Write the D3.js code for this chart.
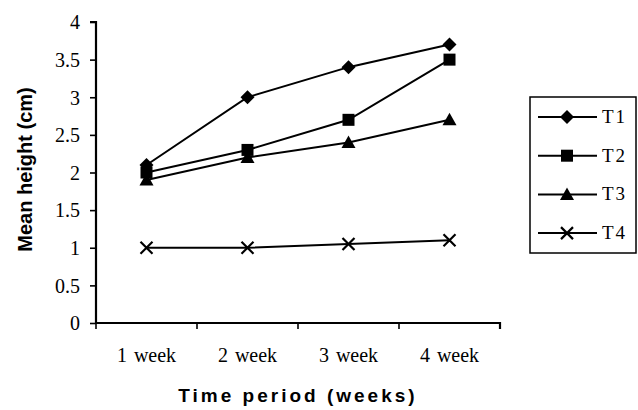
<!DOCTYPE html>
<html>
<head>
<meta charset="utf-8">
<script src="https://cdn.jsdelivr.net/npm/d3@7/dist/d3.min.js"></script>
<style>
body { margin: 0; background: #fff; }
</style>
</head>
<body>
<svg id="chart" width="638" height="410"></svg>
<script>
const weeks = ["1 week", "2 week", "3 week", "4 week"]
const seriesNames = ["T1", "T2", "T3", "T4"]
const t1 = [2.1, 3.0, 3.4, 3.7]
const t2 = [2.0, 2.3, 2.7, 3.5]
const t3 = [1.9, 2.2, 2.4, 2.7]
const t4 = [1.0, 1.0, 1.05, 1.1]
const yTicks = [0, 0.5, 1, 1.5, 2, 2.5, 3, 3.5, 4]

const series = [
	{name: "T1", values: t1, shape: "diamond"},
	{name: "T2", values: t2, shape: "square"},
	{name: "T3", values: t3, shape: "triangle"},
	{name: "T4", values: t4, shape: "cross"}
]

const svg = d3.select("#chart")
const pLeft = 96, pRight = 500, pTop = 22, pBottom = 323

const x = d3.scaleBand().domain(weeks).range([pLeft, pRight])
const y = d3.scaleLinear().domain([0, 4]).range([pBottom, pTop])

// y axis
const ya = svg.append("g").attr("transform", `translate(${pLeft},0)`)
	.call(d3.axisLeft(y).tickValues(yTicks).tickSize(6).tickFormat(d => d))
ya.select(".domain").attr("stroke-width", 2.2).attr("d", `M-6,${pTop}H0V${pBottom}`)
ya.selectAll(".tick line").attr("stroke-width", 1.6)
ya.selectAll("text").attr("font-family", "Liberation Serif").attr("font-size", 20).attr("fill", "#000")
	.attr("x", -16).attr("dy", "0.34em")

// x axis, ticks at category boundaries
const xa = svg.append("g").attr("transform", `translate(0,${pBottom})`)
	.call(d3.axisBottom(x).tickSize(0))
xa.select(".domain").attr("stroke-width", 2.2).attr("d", `M${pLeft},0H${pRight}V6`)
xa.selectAll("text").attr("font-family", "Liberation Serif").attr("font-size", 20).attr("fill", "#000")
	.attr("y", 39).attr("dy", 0).attr("word-spacing", 2)
xa.selectAll(".bound").data(weeks).enter().append("line")
	.attr("x1", d => x(d)).attr("x2", d => x(d)).attr("y1", 0).attr("y2", 6)
	.attr("stroke", "#000").attr("stroke-width", 1.6)

// titles
svg.append("text").attr("transform", `translate(32,${(pTop + pBottom) / 2 - 3}) rotate(-90)`)
	.attr("text-anchor", "middle").attr("font-family", "Liberation Sans").attr("font-weight", "bold")
	.attr("font-size", 20).text("Mean height (cm)")
svg.append("text").attr("x", 298).attr("y", 402).attr("text-anchor", "middle")
	.attr("font-family", "Liberation Sans").attr("font-weight", "bold").attr("font-size", 19)
	.attr("letter-spacing", 3).text("Time period (weeks)")

function marker(g, shape) {
	if (shape === "diamond") g.append("path").attr("d", "M0,-7L7,0L0,7L-7,0Z").attr("fill", "#000")
	else if (shape === "square") g.append("rect").attr("x", -6).attr("y", -6).attr("width", 12).attr("height", 12).attr("fill", "#000")
	else if (shape === "triangle") g.append("path").attr("d", "M0,-7L7,5.5L-7,5.5Z").attr("fill", "#000")
	else g.append("path").attr("d", "M-6,-6L6,6M-6,6L6,-6").attr("stroke", "#000").attr("stroke-width", 2.2)
}

const line = d3.line().x((d, i) => x(weeks[i]) + x.bandwidth() / 2).y(d => y(d))

series.forEach(s => {
	svg.append("path").attr("d", line(s.values)).attr("fill", "none").attr("stroke", "#000").attr("stroke-width", 2)
	s.values.forEach((v, i) => {
		const g = svg.append("g").attr("transform", `translate(${x(weeks[i]) + x.bandwidth() / 2},${y(v)})`)
		marker(g, s.shape)
	})
})

// legend
const lg = svg.append("g")
lg.append("rect").attr("x", 530).attr("y", 97).attr("width", 106).attr("height", 156)
	.attr("fill", "none").attr("stroke", "#000").attr("stroke-width", 1.5)
series.forEach((s, i) => {
	const ly = 117 + i * 38.7
	lg.append("line").attr("x1", 538).attr("x2", 597).attr("y1", ly).attr("y2", ly).attr("stroke", "#000").attr("stroke-width", 2)
	marker(lg.append("g").attr("transform", `translate(567,${ly})`), s.shape)
	lg.append("text").attr("x", 602).attr("y", ly + 6).attr("font-family", "Liberation Serif")
		.attr("font-size", 19).attr("letter-spacing", 2).text(seriesNames[i])
})
</script>
</body>
</html>
